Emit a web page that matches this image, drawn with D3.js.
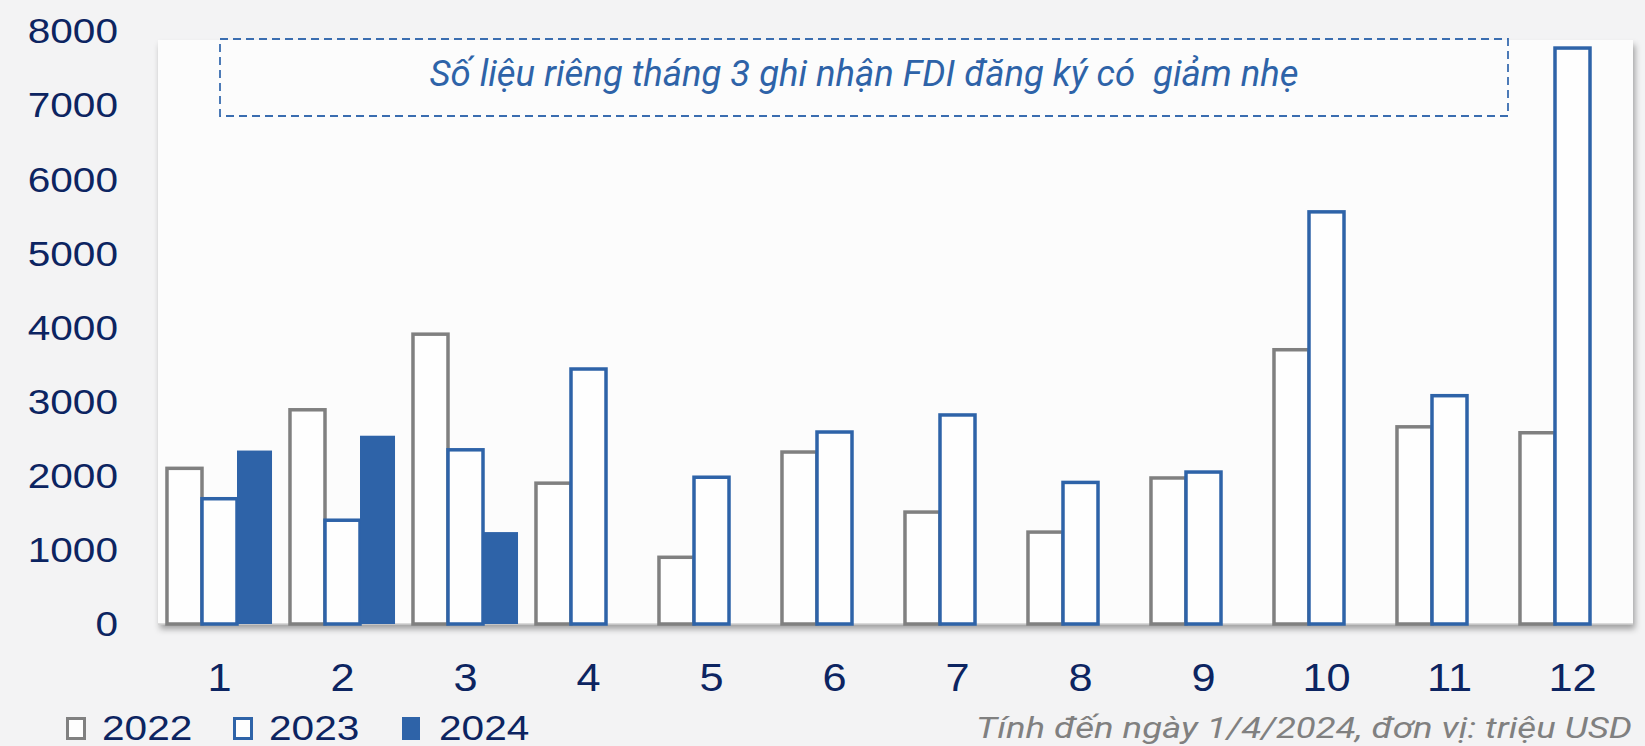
<!DOCTYPE html>
<html>
<head>
<meta charset="utf-8">
<script src="https://d3js.org/d3.v7.min.js"></script>
<style>
body {
  margin: 0;
  background: #f3f3f4;
  overflow: hidden;
}
svg text {
  font-family: "Liberation Sans", Arial, sans-serif;
}
</style>
</head>
<body>
<div id="chart"></div>
<script>
// data (million USD)
var months = ["1", "2", "3", "4", "5", "6", "7", "8", "9", "10", "11", "12"];
var years = ["2022", "2023", "2024"];
var v2022 = [2100, 2890, 3910, 1900, 900, 2320, 1510, 1240, 1970, 3700, 2660, 2580];
var v2023 = [1690, 1400, 2350, 3440, 1980, 2590, 2820, 1910, 2050, 5560, 3080, 7770];
var v2024 = [2340, 2540, 1240];
var yTicks = [0, 1000, 2000, 3000, 4000, 5000, 6000, 7000, 8000];
var noteText = "Số liệu riêng tháng 3 ghi nhận FDI đăng ký có  giảm nhẹ";
var sourceText = "Tính đến ngày 1/4/2024, đơn vị: triệu USD";

var WIDTH = 1645, HEIGHT = 746;
var NAVY = "#0c2461", BLUE = "#2e63a8", GREY = "#808080";

var svg = d3.select("#chart").append("svg")
  .attr("width", WIDTH)
  .attr("height", HEIGHT);

var defs = svg.append("defs");
var shadow = defs.append("filter").attr("id", "shadow")
  .attr("x", "-5%").attr("y", "-5%").attr("width", "110%").attr("height", "115%");
shadow.append("feDropShadow")
  .attr("dx", 2).attr("dy", 5).attr("stdDeviation", 3)
  .attr("flood-color", "#000").attr("flood-opacity", 0.35);

// scales
var x0 = d3.scaleBand().domain(months).range([158, 1634])
  .paddingInner(0.146).paddingOuter(0.073);
var x1 = d3.scaleBand().domain(years).range([0, x0.bandwidth()]);
var y = d3.scaleLinear().domain([0, 8000]).range([624, 31]);

// plot panel
svg.append("rect")
  .attr("x", 158).attr("y", 40)
  .attr("width", 1633 - 158).attr("height", y(0) - 40)
  .attr("fill", "#fcfcfc")
  .attr("filter", "url(#shadow)");

svg.append("line")
  .attr("x1", 158).attr("x2", 1633)
  .attr("y1", y(0)).attr("y2", y(0))
  .attr("stroke", "#cfcfcf").attr("stroke-width", 1.5);

// note box
svg.append("rect")
  .attr("x", 220).attr("y", 39)
  .attr("width", 1508 - 220).attr("height", 116 - 39)
  .attr("fill", "none")
  .attr("stroke", "#3a6db0")
  .attr("stroke-width", 1.8)
  .attr("stroke-dasharray", "8,5");

svg.append("text")
  .attr("x", 864).attr("y", 86)
  .attr("text-anchor", "middle")
  .attr("textLength", 869)
  .attr("lengthAdjust", "spacingAndGlyphs")
  .style("white-space", "pre")
  .style("font-family", "Roboto, sans-serif")
  .style("font-style", "italic")
  .style("font-size", "36px")
  .attr("fill", BLUE)
  .text(noteText);

// bars
var series = [
  { key: "2022", values: v2022, stroke: GREY, fill: "#fefefe" },
  { key: "2023", values: v2023, stroke: BLUE, fill: "#fefefe" },
  { key: "2024", values: v2024, stroke: "none", fill: BLUE }
];

series.forEach(function(s) {
  svg.append("g")
    .selectAll("rect")
    .data(s.values)
    .enter().append("rect")
      .attr("x", function(d, i) { return x0(months[i]) + x1(s.key); })
      .attr("y", function(d) { return y(d); })
      .attr("width", x1.bandwidth())
      .attr("height", function(d) { return y(0) - y(d); })
      .attr("fill", s.fill)
      .attr("stroke", s.stroke)
      .attr("stroke-width", 3.5);
});

// y axis labels
svg.append("g")
  .selectAll("text")
  .data(yTicks)
  .enter().append("text")
    .attr("transform", function(d) { return "translate(118," + y(d) + ") scale(1.16,1)"; })
    .attr("dy", "0.35em")
    .attr("text-anchor", "end")
    .style("font-size", "35px")
    .attr("fill", NAVY)
    .text(function(d) { return d; });

// x axis labels
svg.append("g")
  .selectAll("text")
  .data(months)
  .enter().append("text")
    .attr("transform", function(d) { return "translate(" + (x0(d) + x0.bandwidth() / 2) + ",691) scale(1.14,1)"; })
    .attr("text-anchor", "middle")
    .style("font-size", "38px")
    .attr("fill", NAVY)
    .text(function(d) { return d; });

// legend
var legendX = [66, 233, 402];
var legend = svg.append("g")
  .selectAll("g")
  .data(series)
  .enter().append("g")
    .attr("transform", function(d, i) { return "translate(" + legendX[i] + ",717)"; });

legend.append("rect")
  .attr("x", function(d) { return d.stroke === "none" ? 0 : 1.5; })
  .attr("y", function(d) { return d.stroke === "none" ? 0 : 1.5; })
  .attr("width", function(d) { return d.stroke === "none" ? 18 : 17; })
  .attr("height", function(d) { return d.stroke === "none" ? 23 : 20; })
  .attr("fill", function(d) { return d.fill; })
  .attr("stroke", function(d) { return d.stroke; })
  .attr("stroke-width", 3);

legend.append("text")
  .attr("transform", function(d) { return "translate(" + (d.stroke === "none" ? 37 : 36) + ",23) scale(1.16,1)"; })
  .style("font-size", "35px")
  .attr("fill", NAVY)
  .text(function(d) { return d.key; });

// source note
svg.append("text")
  .attr("x", 1632).attr("y", 738)
  .attr("text-anchor", "end")
  .attr("textLength", 656)
  .attr("lengthAdjust", "spacingAndGlyphs")
  .style("font-family", "Roboto, sans-serif")
  .style("font-style", "italic")
  .style("font-size", "30px")
  .attr("fill", GREY)
  .text(sourceText);
</script>
</html>
